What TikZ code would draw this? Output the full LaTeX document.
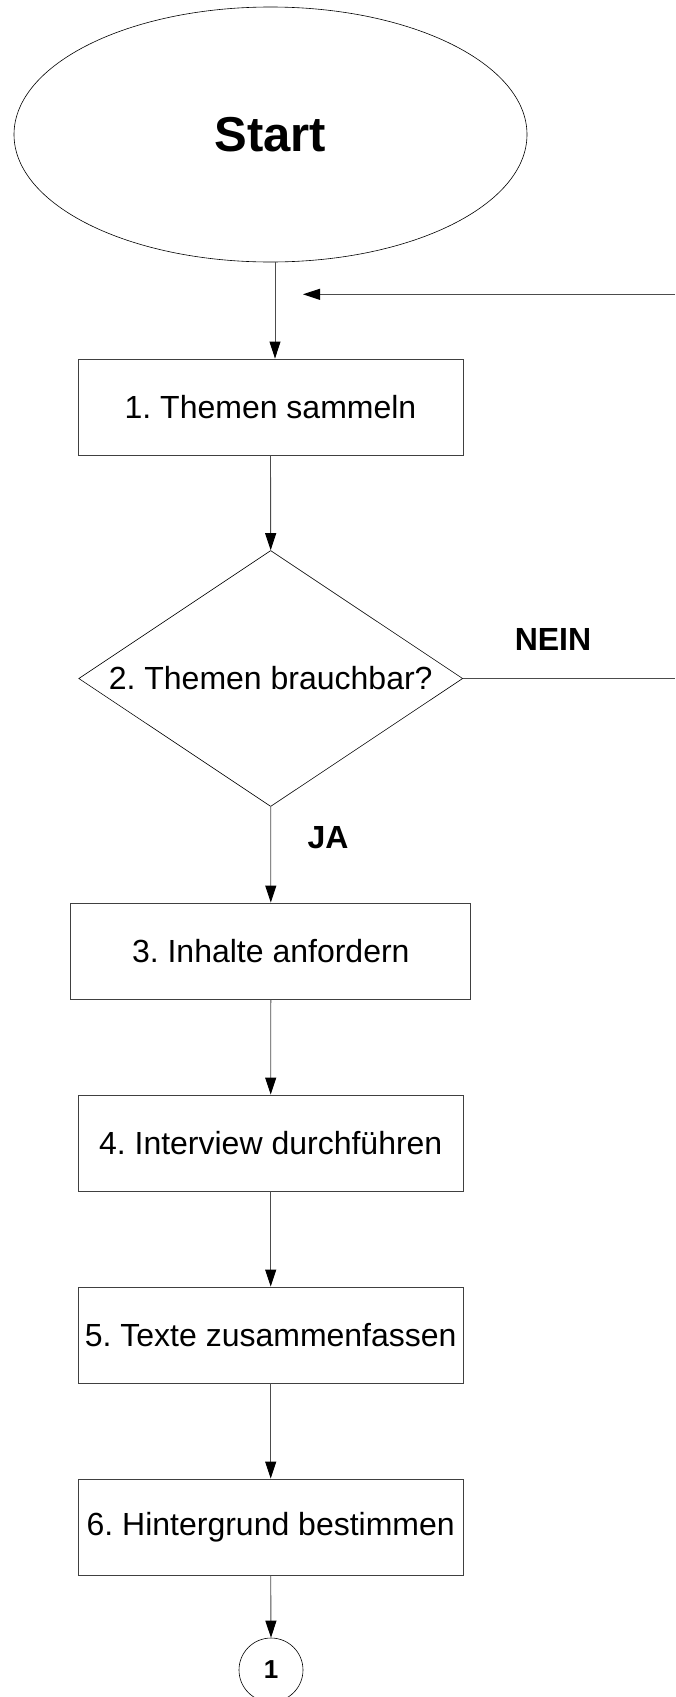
\documentclass[tikz,border=0pt]{standalone}
\usepackage{fontspec}
\setmainfont{Liberation Sans}
\usetikzlibrary{arrows.meta,shapes.geometric}
\frenchspacing
\begin{document}
\begin{tikzpicture}[x=1pt,y=-1pt,
  box/.style={draw=black!75, line width=0.9pt, minimum width=385pt, minimum height=96pt, inner sep=0pt, font=\frenchspacing\fontsize{32}{38}\selectfont},
  conn/.style={draw=black!70, line width=0.9pt, -{Triangle[length=17pt,width=11pt,color=black]}},
  plain/.style={draw=black!70, line width=0.9pt},
  lbl/.style={font=\bfseries\fontsize{32}{38}\selectfont}]
\useasboundingbox (0,0) rectangle (675,1697);
\node[draw, ellipse, minimum width=513pt, minimum height=255pt, inner sep=0pt, line width=0.6pt, font=\bfseries\fontsize{49}{58}\selectfont] (start) at (270.5,134.5) {Start};
\node[box] (b1) at (270.5,407) {1. Themen sammeln};
\node[draw, diamond, aspect=1.5, minimum width=384pt, minimum height=256pt, inner sep=0pt, line width=0.6pt, font=\frenchspacing\fontsize{32}{38}\selectfont] (d) at (270.7,678.5) {2. Themen brauchbar?};
\node[box, minimum width=400pt] (b3) at (270.8,951) {3. Inhalte anfordern};
\node[box] (b4) at (270.7,1143) {4. Interview durchführen};
\node[box] (b5) at (270.7,1335) {5. Texte zusammenfassen};
\node[box] (b6) at (270.7,1527) {6. Hintergrund bestimmen};
\node[draw, circle, minimum size=64pt, inner sep=0pt, line width=0.6pt, font=\bfseries\fontsize{26}{30}\selectfont] (c1) at (271,1670) {1};
\node[lbl] (ja) at (328,838) {JA};
\node[lbl] (nein) at (553,639.5) {NEIN};
\coordinate (nr) at (675,678.5);
\coordinate (rr) at (675,294.3);
\coordinate (rt) at (303,294.3);
\draw[conn] ([xshift=4.5pt]start.south) -- ([xshift=4.5pt]b1.north);
\draw[conn] (b1.south) -- (d.north);
\draw[conn] (d.south) -- (b3.north);
\draw[conn] (b3.south) -- (b4.north);
\draw[conn] (b4.south) -- (b5.north);
\draw[conn] (b5.south) -- (b6.north);
\draw[conn] (b6.south) -- (c1.north);
\draw[plain] (d.east) -- (nr);
\draw[conn] (rr) -- (rt);
\end{tikzpicture}
\end{document}
